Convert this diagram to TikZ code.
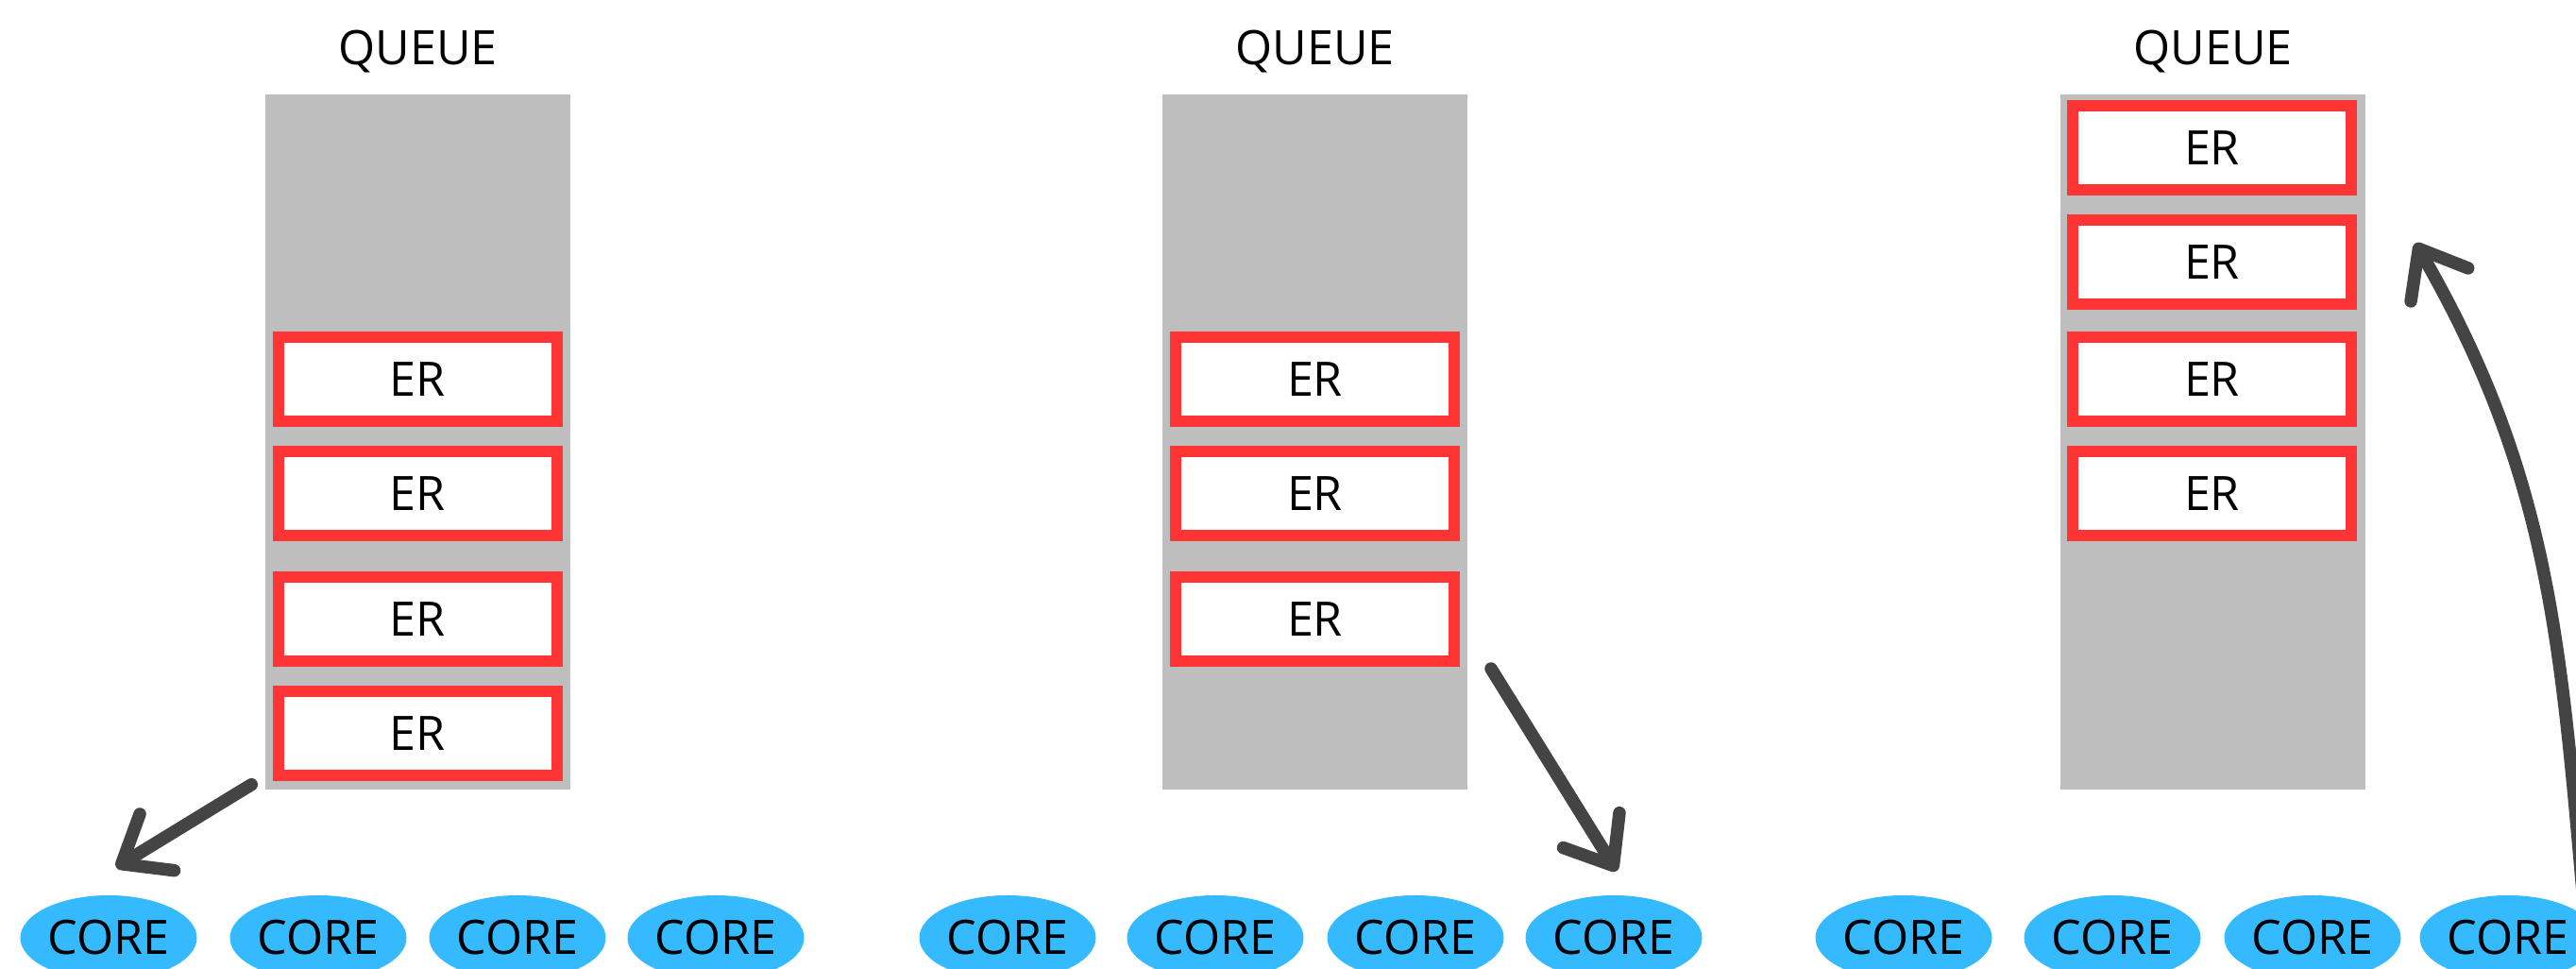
\documentclass[tikz,border=0pt]{standalone}
\usepackage{fontspec}
\setmainfont{Open Sans}
\usetikzlibrary{shapes.geometric,arrows.meta,calc}

\definecolor{qgray}{HTML}{BEBEBE}
\definecolor{erred}{HTML}{FF3434}
\definecolor{coreblue}{HTML}{35BAFF}
\definecolor{arrowgray}{HTML}{444444}

\tikzset{
  queue/.style={rectangle,fill=qgray,inner sep=0,minimum width=3.23cm,minimum height=7.36cm},
  qlabel/.style={anchor=base,inner sep=0},
  er/.style={rectangle,draw=erred,line width=0.12cm,fill=white,inner sep=0,minimum width=2.95cm,minimum height=0.89cm},
  core/.style={ellipse,fill=coreblue,inner sep=0,minimum width=1.87cm,minimum height=0.9cm},
  move/.style={draw=arrowgray,line width=0.135cm,line cap=round,
    -{Straight Barb[length=0.44cm,width=0.7cm,round]}}
}

\begin{document}
\begin{tikzpicture}[font=\fontsize{14.3}{17}\selectfont]
        \useasboundingbox (0,0) rectangle (27.28,10.26);
        \clip (0,0) rectangle (27.28,10.26);

        % Draw queues
        \node[queue] (q1) at (4.425,5.58) {};
        \node[queue] (q2) at (13.925,5.58) {};
        \node[queue] (q3) at (23.435,5.58) {};
        \node[qlabel] (l1) at (4.425,9.57) {QUEUE};
        \node[qlabel] (l2) at (13.925,9.57) {QUEUE};
        \node[qlabel] (l3) at (23.435,9.57) {QUEUE};

        % Draw queued ER entries
        \node[er] (e11) at (4.425,6.245) {ER};
        \node[er] (e12) at (4.425,5.03) {ER};
        \node[er] (e13) at (4.425,3.705) {ER};
        \node[er] (e14) at (4.425,2.495) {ER};

        \node[er] (e21) at (13.925,6.245) {ER};
        \node[er] (e22) at (13.925,5.03) {ER};
        \node[er] (e23) at (13.925,3.705) {ER};

        \node[er] (e31) at (23.425,8.695) {ER};
        \node[er] (e32) at (23.425,7.485) {ER};
        \node[er] (e33) at (23.425,6.245) {ER};
        \node[er] (e34) at (23.425,5.03) {ER};

        % Draw cores
        \node[core] (c11) at (1.15,0.33) {CORE};
        \node[core] (c12) at (3.37,0.33) {CORE};
        \node[core] (c13) at (5.48,0.33) {CORE};
        \node[core] (c14) at (7.58,0.33) {CORE};

        \node[core] (c21) at (10.67,0.33) {CORE};
        \node[core] (c22) at (12.87,0.33) {CORE};
        \node[core] (c23) at (14.99,0.33) {CORE};
        \node[core] (c24) at (17.09,0.33) {CORE};

        \node[core] (c31) at (20.16,0.33) {CORE};
        \node[core] (c32) at (22.37,0.33) {CORE};
        \node[core] (c33) at (24.49,0.33) {CORE};
        \node[core] (c34) at (26.56,0.33) {CORE};

        % Draw moves between queue and cores
        \draw[move] ([shift={(-0.14,0.06)}]q1.south west) -- ([shift={(0.08,0.29)}]c11.north);
        \draw[move] ([shift={(0.33,-0.02)}]e23.south east) -- ([shift={(0.03,0.25)}]c24.north);
        \coordinate (back) at (27.36,0.70);
        \draw[move] (back) to[out=95,in=-60] ([shift={(0.62,0.2)}]e32.east);
    \end{tikzpicture}
\end{document}
